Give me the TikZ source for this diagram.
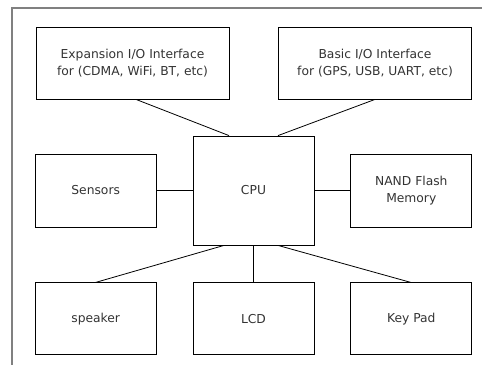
\documentclass[tikz,border=0pt]{standalone}
\usepackage{fontspec}
\setmainfont{DejaVu Sans}
\usetikzlibrary{positioning}
\definecolor{hwtext}{RGB}{51,51,51}
\definecolor{hwframe}{RGB}{128,128,128}
\tikzset{
  blk/.style={draw, line width=0.8pt, align=center, inner sep=2pt, text=hwtext, font=\fontsize{12.3}{17}\selectfont},
  wide/.style={blk, minimum width=193pt, minimum height=72pt},
  unit/.style={blk, minimum width=121pt, minimum height=73pt},
  link/.style={line width=0.8pt}
}

\begin{document}
\begin{tikzpicture}[x=1pt, y=1pt, node distance=36pt]
        \useasboundingbox (0,0) rectangle (482,-365);
        \draw[hwframe, line width=1.3pt] (482,-8) -- (12,-8) -- (12,-365);
        \node[blk, minimum width=121pt, minimum height=109pt] (cpu) at (253.5,-190.5) {CPU};
        \node[wide] (exp) at (132.5,-63) {Expansion I/O Interface\\for (CDMA, WiFi, BT, etc)};
        \node[wide] (basic) at (375,-63) {Basic I/O Interface\\for (GPS, USB, UART, etc)};
        \node[unit, left=of cpu] (sens) {Sensors};
        \node[unit, right=of cpu] (nand) {NAND Flash\\Memory};
        \node[unit, minimum height=72pt, below=37pt of cpu] (lcd) {LCD};
        \node[unit, minimum height=72pt, left=of lcd] (spk) {speaker};
        \node[unit, minimum height=72pt, right=of lcd] (keys) {Key Pad};
        \draw[link] ([xshift=3.5pt]exp.south) -- ([xshift=-24.5pt]cpu.north);
        \draw[link] (basic.south) -- ([xshift=24.5pt]cpu.north);
        \foreach \a/\b in {sens/cpu,cpu/nand}{\draw[link] (\a) -- (\b);}
        \draw[link] (spk.north) -- ([xshift=-29.5pt]cpu.south);
        \draw[link] (lcd.north) -- (cpu.south);
        \draw[link] ([xshift=-0.5pt]keys.north) -- ([xshift=24.5pt]cpu.south);
      \end{tikzpicture}
\end{document}
